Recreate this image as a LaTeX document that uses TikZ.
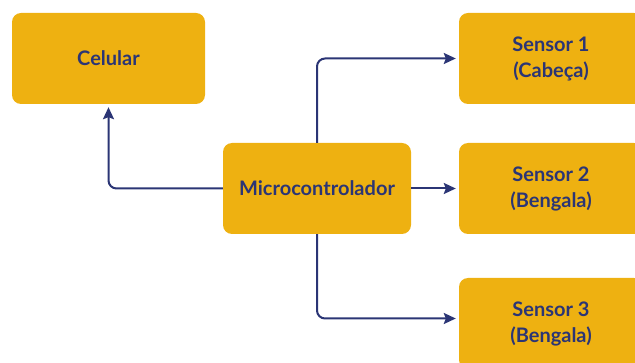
\documentclass[tikz,border=0pt]{standalone}
\usepackage{fontspec}
\setmainfont{Lato}
\usetikzlibrary{arrows.meta}
\definecolor{boxfill}{HTML}{EEB111}
\definecolor{navy}{HTML}{2B3575}
\begin{document}
\begin{tikzpicture}[x=1pt,y=-1pt,
  blk/.style={rectangle, rounded corners=9pt, fill=boxfill, draw=none,
    minimum height=91pt, inner sep=0pt, align=center, text=navy,
    font=\fontsize{20}{26}\selectfont\bfseries},
  conn/.style={draw=navy, line width=2pt, rounded corners=8pt,
    -{Stealth[length=12pt,width=11pt,inset=2pt]}, shorten >=3pt}]
\useasboundingbox (0,0) rectangle (635,363);
\node[blk, minimum width=193pt] (cel) at (108.5,58.5) {Celular};
\node[blk, minimum width=188pt] (mic) at (317,188.5) {Microcontrolador};
\node[blk, minimum width=184pt] (s1) at (551,58.5) {Sensor 1\\(Cabeça)};
\node[blk, minimum width=184pt] (s2) at (551,188.5) {Sensor 2\\(Bengala)};
\node[blk, minimum width=184pt] (s3) at (551,323.5) {Sensor 3\\(Bengala)};
\draw[conn] (mic.west) -| (cel.south);
\draw[conn] (mic.north) |- (s1.west);
\draw[conn] (mic.east) -- (s2.west);
\draw[conn] (mic.south) |- ([yshift=5pt]s3.west);
\end{tikzpicture}
\end{document}
